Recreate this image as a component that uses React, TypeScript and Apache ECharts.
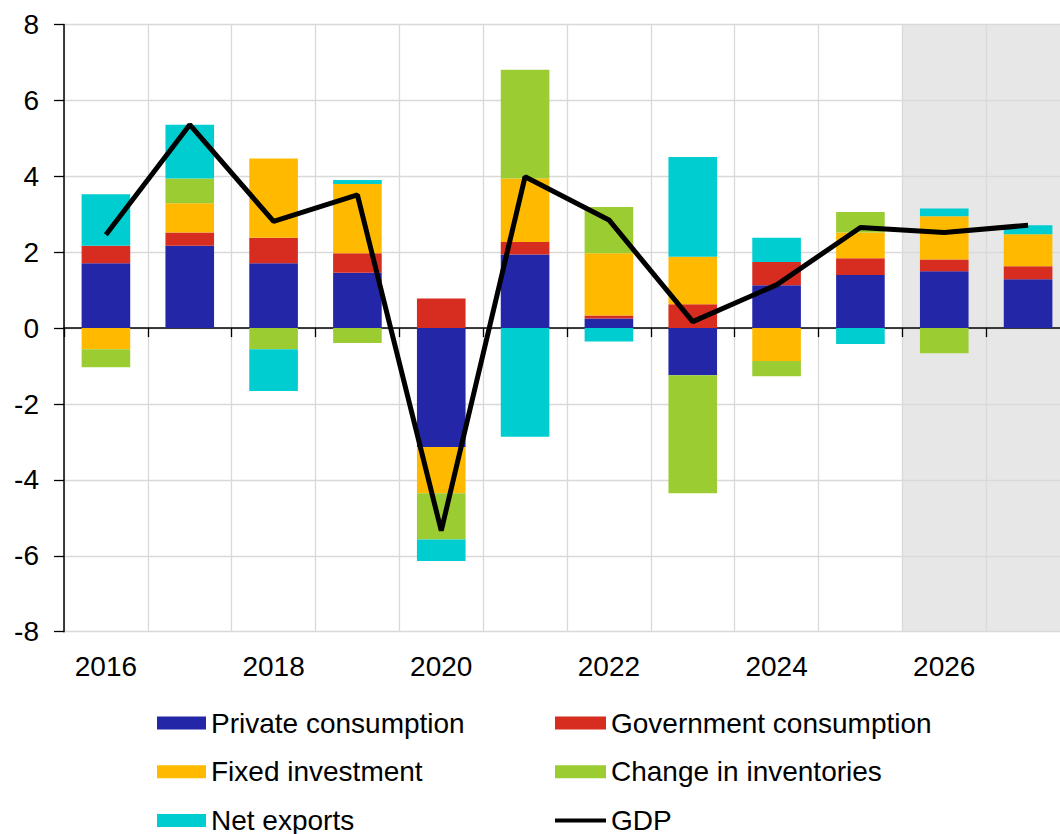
import React, { useEffect, useRef } from "react";
import * as echarts from "echarts";

const years = ["2016", "2017", "2018", "2019", "2020", "2021", "2022", "2023", "2024", "2025", "2026", "2027"];
const privateConsumption = [1.71, 2.17, 1.71, 1.46, -3.13, 1.94, 0.25, -1.24, 1.13, 1.4, 1.5, 1.29];
const governmentConsumption = [0.46, 0.35, 0.67, 0.51, 0.78, 0.33, 0.08, 0.63, 0.61, 0.44, 0.31, 0.34];
const fixedInvestment = [-0.56, 0.77, 2.09, 1.83, -1.22, 1.67, 1.64, 1.25, -0.87, 0.68, 1.14, 0.84];
const changeInInventories = [-0.47, 0.65, -0.56, -0.39, -1.22, 2.87, 1.22, -3.11, -0.4, 0.54, -0.66, 0];
const netExports = [1.36, 1.42, -1.1, 0.1, -0.57, -2.86, -0.35, 2.63, 0.64, -0.42, 0.2, 0.24];
const gdp = [2.46, 5.36, 2.81, 3.51, -5.34, 3.99, 2.85, 0.17, 1.14, 2.65, 2.52, 2.71];
const projectionYears = ["2026", "2027"];
const yMin = -8;
const yMax = 8;
const yStep = 2;

const FONT = "'Liberation Sans', Arial, sans-serif";

export default function App() {
  const ref = useRef<HTMLDivElement>(null);
  useEffect(() => {
    if (!ref.current) return;
    const chart = echarts.init(ref.current, null, { renderer: "svg" });
    const shadeTop = years.map((y) => (projectionYears.includes(y) ? yMax : null));
    const shadeBottom = years.map((y) => (projectionYears.includes(y) ? yMin : null));
    const barSeries = (name: string, data: number[], color: string) => ({
      name,
      type: "bar",
      stack: "contrib",
      xAxisIndex: 0,
      yAxisIndex: 0,
      data,
      barCategoryGap: "42%",
      itemStyle: { color },
      emphasis: { disabled: true },
    });
    const legendText = { fontSize: 28, color: "#000", fontFamily: FONT };
    const option: any = {
      animation: false,
      backgroundColor: "#ffffff",
      textStyle: { fontFamily: FONT },
      grid: { left: 64, top: 24.5, width: 1006, height: 607.2, containLabel: false },
      xAxis: [
        {
          type: "category",
          data: years,
          position: "bottom",
          axisLine: { show: false, onZero: false },
          axisTick: { show: false },
          axisLabel: {
            interval: 1,
            fontSize: 28,
            color: "#000",
            fontFamily: FONT,
            margin: 21,
          },
          splitLine: { show: true, interval: 0, lineStyle: { color: "#d9d9d9", width: 1.3 } },
        },
        {
          type: "category",
          data: years,
          position: "bottom",
          axisLine: { show: true, onZero: true, onZeroAxisIndex: 0, lineStyle: { color: "#000", width: 1.5 } },
          axisTick: { show: true, interval: 0, length: 9, lineStyle: { color: "#000", width: 1.3 } },
          axisLabel: { show: false },
          splitLine: { show: false },
        },
      ],
      yAxis: [
        {
          type: "value",
          min: yMin,
          max: yMax,
          interval: yStep,
          axisLine: { show: true, lineStyle: { color: "#000", width: 1.5 } },
          axisTick: { show: true, length: 10, lineStyle: { color: "#000", width: 1.3 } },
          axisLabel: { fontSize: 28, color: "#000", fontFamily: FONT, margin: 25 },
          splitLine: { show: true, lineStyle: { color: "#d9d9d9", width: 1.3 } },
        },
      ],
      legend: [
        {
          orient: "vertical",
          left: 157,
          top: 709,
          height: 160,
          padding: 0,
          itemWidth: 49,
          itemHeight: 13,
          itemGap: 20.7,
          icon: "rect",
          textStyle: legendText,
          data: ["Private consumption", "Fixed investment", "Net exports"],
          selectedMode: false,
        },
        {
          orient: "vertical",
          left: 555,
          top: 709,
          height: 160,
          padding: 0,
          itemWidth: 51,
          itemHeight: 13,
          itemGap: 20.7,
          textStyle: legendText,
          data: [
            { name: "Government consumption", icon: "rect" },
            { name: "Change in inventories", icon: "rect" },
            { name: "GDP", icon: "path://M0 0H51V4H0Z", itemStyle: { color: "#000" } },
          ],
          selectedMode: false,
        },
      ],
      series: [
        {
          name: "shadeTop",
          type: "bar",
          stack: "shade",
          xAxisIndex: 1,
          yAxisIndex: 0,
          data: shadeTop,
          barCategoryGap: "0%",
          itemStyle: { color: "#e7e7e7" },
          z: -1,
          silent: true,
        },
        {
          name: "shadeBottom",
          type: "bar",
          stack: "shade",
          xAxisIndex: 1,
          yAxisIndex: 0,
          data: shadeBottom,
          barCategoryGap: "0%",
          itemStyle: { color: "#e7e7e7" },
          z: -1,
          silent: true,
        },
        barSeries("Private consumption", privateConsumption, "#2426a8"),
        barSeries("Government consumption", governmentConsumption, "#d62d20"),
        barSeries("Fixed investment", fixedInvestment, "#ffba00"),
        barSeries("Change in inventories", changeInInventories, "#9bcd32"),
        barSeries("Net exports", netExports, "#00cdd0"),
        {
          name: "GDP",
          type: "line",
          xAxisIndex: 0,
          yAxisIndex: 0,
          data: gdp,
          symbol: "none",
          lineStyle: { color: "#000", width: 5 },
          itemStyle: { color: "#000" },
          z: 5,
        },
      ],
    };
    chart.setOption(option);
    return () => chart.dispose();
  }, []);
  return (
    <div style={{ position: "fixed", left: 0, top: 0, width: 1060, height: 834, overflow: "hidden" }}>
      <div ref={ref} style={{ width: 1080, height: 834 }} />
    </div>
  );
}
